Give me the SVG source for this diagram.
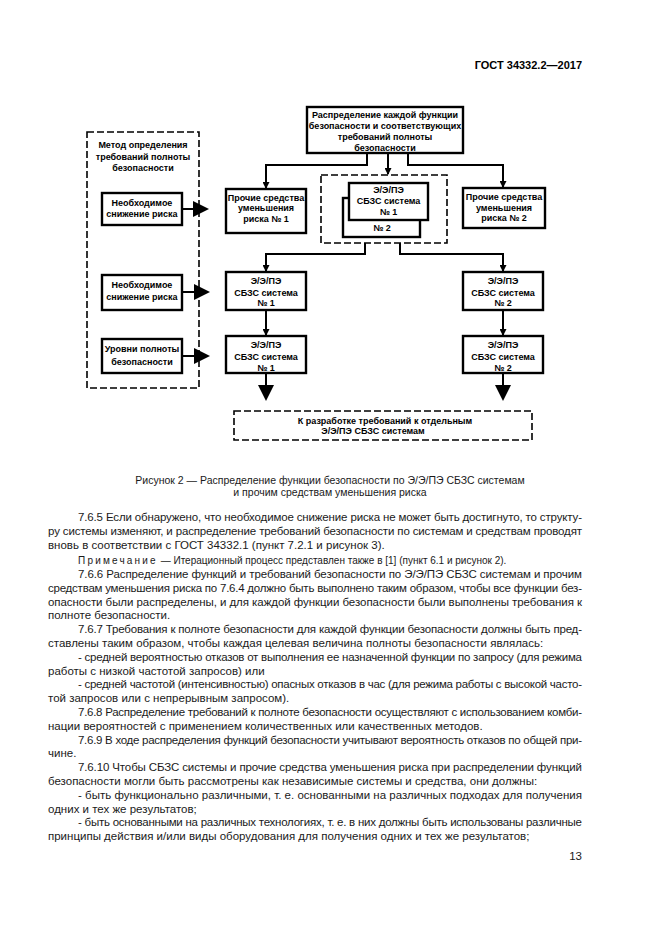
<svg xmlns="http://www.w3.org/2000/svg" width="661" height="935" viewBox="0 0 661 935">
<defs>
<style>
.box{fill:#fff;stroke:#000;stroke-width:2.4}
.dash{fill:none;stroke:#000;stroke-width:1.6;stroke-dasharray:7 3}
.t{font-family:"Liberation Sans",Arial,sans-serif;font-size:9px;font-weight:bold;text-anchor:middle;fill:#000}
.c{fill:none;stroke:#000;stroke-width:2}
.big{fill:#000;stroke:none}
.b{font-family:"Liberation Sans",Arial,sans-serif;font-size:11.5px;fill:#1a1a1a}
.cap{font-family:"Liberation Sans",Arial,sans-serif;font-size:10.5px;fill:#1a1a1a;text-anchor:middle}
.hd{font-family:"Liberation Sans",Arial,sans-serif;font-size:11px;font-weight:bold;fill:#000;text-anchor:end}
</style>
<marker id="ah" markerUnits="userSpaceOnUse" markerWidth="7" markerHeight="7" refX="6" refY="3.5" orient="auto">
<path d="M0,0 L7,3.5 L0,7 z" fill="#000"/>
</marker>
</defs>
<rect width="661" height="935" fill="#fff"/>

<text class="hd" x="582" y="69">ГОСТ 34332.2—2017</text>

<g id="connectors">
<path class="c" d="M367,153 V165 H266 V188" marker-end="url(#ah)"/>
<path class="c" d="M388,153 V174" marker-end="url(#ah)"/>
<path class="c" d="M408,153 V165 H503 V187" marker-end="url(#ah)"/>
<path class="c" d="M365,243 V254 H266 V271" marker-end="url(#ah)"/>
<path class="c" d="M400,243 V254 H503 V271" marker-end="url(#ah)"/>
<path class="c" d="M266,310 V335" marker-end="url(#ah)"/>
<path class="c" d="M503,310 V335" marker-end="url(#ah)"/>
<path class="c" d="M182,209 H195"/>
<polygon class="big" points="193,201 209,209 193,217"/>
<path class="c" d="M182,292 H196"/>
<polygon class="big" points="194,284 210,292 194,300"/>
<path class="c" d="M182,356 H196"/>
<polygon class="big" points="194,348 210,356 194,364"/>
<path class="c" d="M266,373 V387"/>
<polygon class="big" points="258,385 274,385 266,401"/>
<path class="c" d="M503,373 V387"/>
<polygon class="big" points="495,385 511,385 503,401"/>
</g>

<g id="method">
<rect class="dash" x="87" y="132" width="112" height="256"/>
<text class="t" x="143" y="148">Метод определения</text>
<text class="t" x="143" y="160">требований полноты</text>
<text class="t" x="143" y="171">безопасности</text>
</g>

<g id="need1">
<rect class="box" x="102" y="193" width="80" height="32"/>
<text class="t" x="142" y="205.5">Необходимое</text>
<text class="t" x="142" y="217">снижение риска</text>
</g>

<g id="need2">
<rect class="box" x="102" y="275" width="80" height="35"/>
<text class="t" x="142" y="288">Необходимое</text>
<text class="t" x="142" y="300">снижение риска</text>
</g>

<g id="levels">
<rect class="box" x="102" y="339" width="80" height="34"/>
<text class="t" x="142" y="352">Уровни полноты</text>
<text class="t" x="142" y="365">безопасности</text>
</g>

<g id="top">
<rect class="box" x="307" y="107" width="156" height="46"/>
<text class="t" x="385" y="118">Распределение каждой функции</text>
<text class="t" x="385" y="129">безопасности и соответствующих</text>
<text class="t" x="385" y="140">требований полноты</text>
<text class="t" x="385" y="150.5">безопасности</text>
</g>

<g id="other1">
<rect class="box" x="226" y="189" width="80" height="44"/>
<text class="t" x="266" y="200.5">Прочие средства</text>
<text class="t" x="266" y="211">уменьшения</text>
<text class="t" x="266" y="221.5">риска № 1</text>
</g>

<g id="systems">
<rect class="dash" x="321" y="175" width="126" height="68"/>
<rect class="box" x="343" y="198" width="77" height="39" stroke-width="1.8"/>
<text class="t" x="382" y="231">№ 2</text>
<rect class="box" x="349" y="183" width="79" height="37"/>
<text class="t" x="388.5" y="192.5">Э/Э/ПЭ</text>
<text class="t" x="388.5" y="203.5">СБЗС система</text>
<text class="t" x="388.5" y="214.5">№ 1</text>
</g>

<g id="other2">
<rect class="box" x="463" y="188" width="82" height="40"/>
<text class="t" x="504" y="200">Прочие средства</text>
<text class="t" x="504" y="211">уменьшения</text>
<text class="t" x="504" y="221">риска № 2</text>
</g>

<g id="sys1a">
<rect class="box" x="226" y="272" width="80" height="38"/>
<text class="t" x="266" y="284">Э/Э/ПЭ</text>
<text class="t" x="266" y="295.5">СБЗС система</text>
<text class="t" x="266" y="306">№ 1</text>
</g>

<g id="sys1b">
<rect class="box" x="226" y="336" width="80" height="37"/>
<text class="t" x="266" y="348">Э/Э/ПЭ</text>
<text class="t" x="266" y="360">СБЗС система</text>
<text class="t" x="266" y="370.5">№ 1</text>
</g>

<g id="sys2a">
<rect class="box" x="463" y="272" width="80" height="38"/>
<text class="t" x="503" y="284">Э/Э/ПЭ</text>
<text class="t" x="503" y="295.5">СБЗС система</text>
<text class="t" x="503" y="306">№ 2</text>
</g>

<g id="sys2b">
<rect class="box" x="463" y="336" width="80" height="37"/>
<text class="t" x="503" y="348">Э/Э/ПЭ</text>
<text class="t" x="503" y="360">СБЗС система</text>
<text class="t" x="503" y="370.5">№ 2</text>
</g>

<g id="develop">
<rect class="dash" x="234" y="411" width="298" height="29"/>
<text class="t" x="385" y="423.5">К разработке требований к отдельным</text>
<text class="t" x="373" y="434">Э/Э/ПЭ СБЗС системам</text>
</g>

<text class="cap" x="330" y="484">Рисунок 2 — Распределение функции безопасности по Э/Э/ПЭ СБЗС системам</text>
<text class="cap" x="330" y="496">и прочим средствам уменьшения риска</text>

<g class="b">
<text x="78" y="521" textLength="504" lengthAdjust="spacing">7.6.5 Если обнаружено, что необходимое снижение риска не может быть достигнуто, то структу-</text>
<text x="48" y="535" textLength="534" lengthAdjust="spacing">ру системы изменяют, и распределение требований безопасности по системам и средствам проводят</text>
<text x="48" y="549">вновь в соответствии с ГОСТ 34332.1 (пункт 7.2.1 и рисунок 3).</text>
<text x="78" y="563.5" font-size="10"><tspan letter-spacing="2.2">Примечание</tspan> — Итерационный процесс представлен также в [1] (пункт 6.1 и рисунок 2).</text>
<text x="78" y="578" textLength="504" lengthAdjust="spacing">7.6.6 Распределение функций и требований безопасности по Э/Э/ПЭ СБЗС системам и прочим</text>
<text x="48" y="591.8" textLength="534" lengthAdjust="spacing">средствам уменьшения риска по 7.6.4 должно быть выполнено таким образом, чтобы все функции без-</text>
<text x="48" y="605.6" textLength="534" lengthAdjust="spacing">опасности были распределены, и для каждой функции безопасности были выполнены требования к</text>
<text x="48" y="619.4">полноте безопасности.</text>
<text x="78" y="633.2" textLength="504" lengthAdjust="spacing">7.6.7 Требования к полноте безопасности для каждой функции безопасности должны быть пред-</text>
<text x="48" y="647">ставлены таким образом, чтобы каждая целевая величина полноты безопасности являлась:</text>
<text x="78" y="660.8" textLength="504" lengthAdjust="spacing">- средней вероятностью отказов от выполнения ее назначенной функции по запросу (для режима</text>
<text x="48" y="674.6">работы с низкой частотой запросов) или</text>
<text x="78" y="688.4" textLength="504" lengthAdjust="spacing">- средней частотой (интенсивностью) опасных отказов в час (для режима работы с высокой часто-</text>
<text x="48" y="702.2">той запросов или с непрерывным запросом).</text>
<text x="78" y="716" textLength="504" lengthAdjust="spacing">7.6.8 Распределение требований к полноте безопасности осуществляют с использованием комби-</text>
<text x="48" y="729.8">нации вероятностей с применением количественных или качественных методов.</text>
<text x="78" y="743.6" textLength="504" lengthAdjust="spacing">7.6.9 В ходе распределения функций безопасности учитывают вероятность отказов по общей при-</text>
<text x="48" y="757.4">чине.</text>
<text x="78" y="771.2" textLength="504" lengthAdjust="spacing">7.6.10 Чтобы СБЗС системы и прочие средства уменьшения риска при распределении функций</text>
<text x="48" y="785">безопасности могли быть рассмотрены как независимые системы и средства, они должны:</text>
<text x="78" y="798.8" textLength="504" lengthAdjust="spacing">- быть функционально различными, т. е. основанными на различных подходах для получения</text>
<text x="48" y="812.6">одних и тех же результатов;</text>
<text x="78" y="826.4" textLength="504" lengthAdjust="spacing">- быть основанными на различных технологиях, т. е. в них должны быть использованы различные</text>
<text x="48" y="840.2">принципы действия и/или виды оборудования для получения одних и тех же результатов;</text>
<text x="582" y="860" text-anchor="end">13</text>
</g>
</svg>
